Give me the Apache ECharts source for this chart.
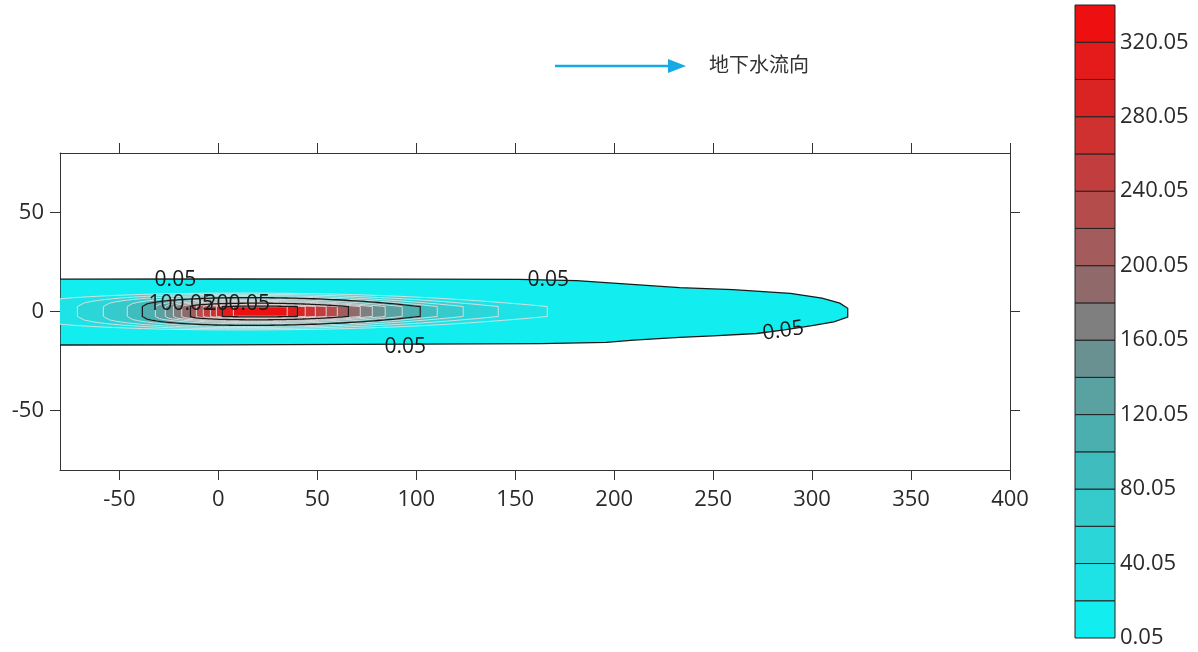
<!DOCTYPE html>
<html><head><meta charset="utf-8">
<script src="https://cdn.jsdelivr.net/npm/echarts@6/dist/echarts.min.js"></script>
<style>html,body{margin:0;padding:0;background:#fff}#c{width:1198px;height:652px}</style>
</head><body><div id="c"></div>
<script>
// ---- data ----
const xTicks = [-50, 0, 50, 100, 150, 200, 250, 300, 350, 400];
const yTicks = [-50, 0, 50];
const cbTicks = [0.05, 40.05, 80.05, 120.05, 160.05, 200.05, 240.05, 280.05, 320.05];
const bandLow = [0.05, 20.05, 40.05, 60.05, 80.05, 100.05, 120.05, 140.05, 160.05, 180.05, 200.05, 220.05, 240.05, 260.05, 280.05, 300.05, 320.05];
const bandColors = ['#12eef0', '#1ee3e6', '#2ad6d8', '#35cacb', '#3fbdbe', '#4bafb0', '#5aa1a2', '#6a9192', '#7f7f7f', '#906a6a', '#a45b5b', '#b44c4c', '#c23e3e', '#cf3030', '#da2424', '#e51a1a', '#ee1010'];
// outer 0.05 contour (plume outline)
const outerTop = [[-80, 16.3], [0, 16.4], [100, 16.3], [152, 16.2], [181, 15.6], [207, 13.8], [233, 12.0], [260, 11.0], [289, 9.2], [305, 6.8], [314, 4.2], [318, 1.6]];
const outerBottom = [[318, -2.8], [311, -5.2], [300, -7.1], [286, -9.3], [272, -11.1], [250, -12.3], [233, -13.1], [210, -14.4], [196, -15.6], [163, -16.2], [100, -16.5], [0, -16.8], [-80, -16.9]];
// inner contour levels: left end, right end, widest point, half width
const lensLevels = [20.05, 40.05, 60.05, 80.05, 100.05, 120.05, 140.05, 160.05, 180.05, 200.05, 220.05, 240.05, 260.05, 280.05, 300.05, 320.05];
const lensLeft  = [-100, -71.2, -58.1, -46.0, -38.4, -31.8, -26.8, -22.7, -18.5, -14.1, -11.1, -7.6, -4.0, -1.0, 2.0, 7.6];
const lensRight = [166.2, 141.4, 123.7, 110.6, 102.0, 92.9, 84.3, 77.8, 71.7, 65.7, 60.1, 54.5, 49.0, 43.9, 39.9, 34.8];
const lensPeak  = [10, 8, 8, 10, 14, 15, 16, 17, 18, 18, 19, 19, 20, 20, 21, 22];
const lensHalf  = [9.3, 8.7, 8.1, 7.5, 7.0, 6.2, 5.6, 5.1, 4.6, 4.2, 3.8, 3.5, 3.2, 2.9, 2.7, 2.4];
const majorLevels = [100.05, 200.05, 300.05];
// contour labels: x, y, text, rotation (deg)
const labelX = [-21.7, 166.7, 94.4, 285.4, -18.7, 9.6];
const labelY = [16.0, 16.0, -17.8, -9.8, 3.8, 3.8];
const labelText = ['0.05', '0.05', '0.05', '0.05', '100.05', '200.05'];
const labelRot = [0, 0, 0, 8, 0, 0];

// ---- helpers ----
const FONT = '"Open Sans", "Noto Sans", sans-serif';
function lensPoints(i) {
  const xl = lensLeft[i], xr = lensRight[i], xp = lensPeak[i], H = lensHalf[i];
  const e = Math.min(2.5, H);
  const top = [], bot = [], n = 60;
  for (let k = 0; k <= n; k++) {
    const x = xl + (xr - xl) * k / n;
    let f;
    if (x <= xp) { const u = (xp - x) / (xp - xl); f = Math.sqrt(Math.max(0, 1 - u * u)); }
    else { const u = (x - xp) / (xr - xp); f = 1 - Math.pow(u, 2.2); }
    const h = e + (H - e) * f;
    top.push([x, h]); bot.push([x, -h]);
  }
  return top.concat(bot.reverse());
}
function contourPoints(idx) {
  return idx === 0 ? outerTop.concat(outerBottom) : lensPoints(idx - 1);
}
const contourLevels = [0.05].concat(lensLevels);

const chart = echarts.init(document.getElementById('c'), null, {renderer: 'canvas'});
function mainAxis(extra, ticks, showLabel, margin) {
  return Object.assign({
    type: 'value', splitLine: {show: false},
    axisLine: {show: true, onZero: false, lineStyle: {color: '#333', width: 1}},
    axisTick: {show: true, length: 10, customValues: ticks, lineStyle: {color: '#333'}},
    axisLabel: showLabel ? {customValues: ticks, fontSize: 22, color: '#2a2a2a', fontFamily: FONT, margin: margin} : {show: false}
  }, extra);
}
chart.setOption({
  animation: false,
  backgroundColor: '#fff',
  grid: [
    {left: 60, top: 153, width: 950, height: 317, containLabel: false, outerBoundsMode: 'none'},
    {left: 1075, top: 5, width: 40, height: 633, containLabel: false, outerBoundsMode: 'none'}
  ],
  xAxis: [
    mainAxis({gridIndex: 0, min: -80, max: 400, position: 'bottom'}, xTicks, true, 19),
    mainAxis({gridIndex: 0, min: -80, max: 400, position: 'top'}, xTicks, false),
    {type: 'value', gridIndex: 1, min: 0, max: 1, show: false}
  ],
  yAxis: [
    mainAxis({gridIndex: 0, min: -80, max: 80, position: 'left'}, yTicks, true, 16),
    mainAxis({gridIndex: 0, min: -80, max: 80, position: 'right'}, yTicks, false),
    {type: 'value', gridIndex: 1, min: 0.05, max: 340.05, position: 'right',
     axisLine: {show: false}, axisTick: {show: false}, splitLine: {show: false},
     axisLabel: {customValues: cbTicks, formatter: v => v.toFixed(2), fontSize: 22, color: '#2a2a2a', fontFamily: FONT, margin: 5}}
  ],
  series: [
    { // filled contours
      type: 'custom', xAxisIndex: 0, yAxisIndex: 0, clip: true,
      data: contourLevels.map((v, i) => [i, v]),
      renderItem: function (params, api) {
        const idx = params.dataIndex;
        const lvl = contourLevels[idx];
        const band = bandLow.indexOf(lvl);
        const pts = contourPoints(idx).map(p => api.coord(p));
        const major = idx === 0;
        return {type: 'polygon', shape: {points: pts},
          style: {fill: bandColors[band], stroke: major ? '#1a1a1a' : 'rgba(225,225,225,0.9)', lineWidth: major ? 1.3 : 1}};
      }
    },
    { // labelled (major) contour lines on top
      type: 'custom', xAxisIndex: 0, yAxisIndex: 0, clip: true,
      data: majorLevels.map(v => [v]),
      renderItem: function (params, api) {
        const lvl = majorLevels[params.dataIndex];
        const idx = contourLevels.indexOf(lvl);
        const pts = contourPoints(idx).map(p => api.coord(p));
        return {type: 'polygon', shape: {points: pts}, style: {fill: null, stroke: '#1a1a1a', lineWidth: 1.3}};
      }
    },
    { // contour labels
      type: 'custom', xAxisIndex: 0, yAxisIndex: 0, clip: false,
      data: labelX.map((x, i) => [x, labelY[i]]),
      renderItem: function (params, api) {
        const i = params.dataIndex;
        const p = api.coord([labelX[i], labelY[i]]);
        return {type: 'text', x: p[0], y: p[1], rotation: labelRot[i] * Math.PI / 180,
          style: {text: labelText[i], fill: '#1a1a1a', font: '21px ' + FONT, align: 'center', verticalAlign: 'middle'}};
      }
    },
    { // colour bar
      type: 'custom', xAxisIndex: 2, yAxisIndex: 2, clip: false,
      data: bandLow.map((v, i) => [i, v]),
      renderItem: function (params, api) {
        const i = params.dataIndex;
        const lo = bandLow[i], hi = lo + 20;
        const a = api.coord([0, hi]), b = api.coord([1, lo]);
        return {type: 'rect', shape: {x: a[0], y: a[1], width: b[0] - a[0], height: b[1] - a[1]},
          style: {fill: bandColors[i], stroke: '#222', lineWidth: 1}};
      }
    }
  ],
  graphic: [
    {type: 'line', shape: {x1: 555, y1: 66, x2: 670, y2: 66}, style: {stroke: '#16a9e4', lineWidth: 2.5}},
    {type: 'polygon', shape: {points: [[668, 59], [686, 66], [668, 73]]}, style: {fill: '#16a9e4'}},
    {type: 'text', x: 709, y: 64, style: {text: '地下水流向', font: '20px "Noto Sans CJK SC", sans-serif', fill: '#333', verticalAlign: 'middle'}}
  ]
});
</script>
</body></html>
